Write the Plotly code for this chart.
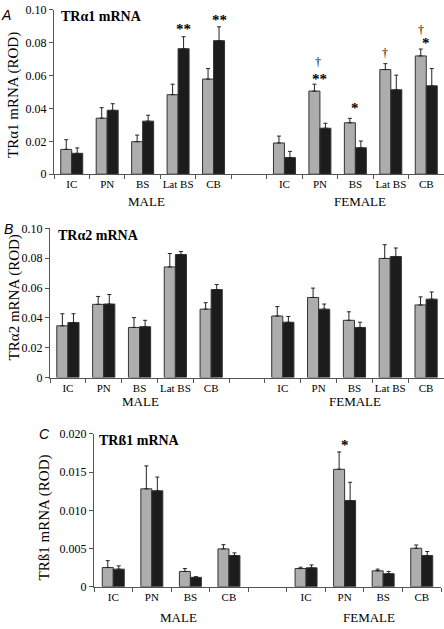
import plotly.graph_objects as go

# ---------------- data ----------------
cats_A = ["IC", "PN", "BS", "Lat BS", "CB"]
A_male_gray = [0.0151, 0.0341, 0.0198, 0.0484, 0.0579]
A_male_gray_sem = [0.0059, 0.0064, 0.0040, 0.0064, 0.0064]
A_male_black = [0.0127, 0.0389, 0.0323, 0.0764, 0.0813]
A_male_black_sem = [0.0033, 0.0040, 0.0036, 0.0073, 0.0084]
A_female_gray = [0.0190, 0.0506, 0.0313, 0.0637, 0.0720]
A_female_gray_sem = [0.0042, 0.0042, 0.0027, 0.0036, 0.0042]
A_female_black = [0.0101, 0.0280, 0.0161, 0.0514, 0.0538]
A_female_black_sem = [0.0038, 0.0030, 0.0041, 0.0089, 0.0105]

cats_B = ["IC", "PN", "BS", "Lat BS", "CB"]
B_male_gray = [0.0347, 0.0491, 0.0336, 0.0742, 0.0459]
B_male_gray_sem = [0.0081, 0.0053, 0.0066, 0.0090, 0.0043]
B_male_black = [0.0369, 0.0493, 0.0341, 0.0825, 0.0590]
B_male_black_sem = [0.0059, 0.0064, 0.0043, 0.0020, 0.0034]
B_female_gray = [0.0413, 0.0537, 0.0384, 0.0799, 0.0487]
B_female_gray_sem = [0.0063, 0.0063, 0.0057, 0.0092, 0.0054]
B_female_black = [0.0371, 0.0459, 0.0336, 0.0812, 0.0526]
B_female_black_sem = [0.0039, 0.0034, 0.0035, 0.0057, 0.0048]

cats_C = ["IC", "PN", "BS", "CB"]
C_male_gray = [0.00252, 0.01282, 0.00201, 0.00496]
C_male_gray_sem = [0.00090, 0.00300, 0.00038, 0.00055]
C_male_black = [0.00231, 0.01256, 0.00124, 0.00410]
C_male_black_sem = [0.00043, 0.00180, 0.00008, 0.00034]
C_female_gray = [0.00239, 0.01538, 0.00209, 0.00504]
C_female_gray_sem = [0.00017, 0.00227, 0.00022, 0.00043]
C_female_black = [0.00248, 0.01128, 0.00171, 0.00410]
C_female_black_sem = [0.00038, 0.00240, 0.00030, 0.00052]

ytick_vals_AB = [0, 0.02, 0.04, 0.06, 0.08, 0.10]
ytick_text_AB = ["0", "0.02", "0.04", "0.06", "0.08", "0.10"]
ytick_vals_C = [0, 0.005, 0.010, 0.015, 0.020]
ytick_text_C = ["0", "0.005", "0.010", "0.015", "0.020"]

# ---------------- style ----------------
GRAY = "#adadad"
BLACK = "#1c1c1c"
AXC = "#555555"
SERIF = "Liberation Serif, Times New Roman, serif"
SANS = "Liberation Sans, Arial, sans-serif"
W, H = 444, 629

fig = go.Figure()


def add_panel(n, cats, mg, mgs, mb, mbs, fg, fgs, fb, fbs, width):
    k = len(cats)
    xm = list(range(k))
    xf = [k + 1 + i for i in range(k)]
    xa = "x" if n == 1 else f"x{n}"
    ya = "y" if n == 1 else f"y{n}"
    for xs, vals, sems, col, off in [
        (xm, mg, mgs, GRAY, -width), (xm, mb, mbs, BLACK, 0.0),
        (xf, fg, fgs, GRAY, -width), (xf, fb, fbs, BLACK, 0.0)]:
        fig.add_trace(go.Bar(
            x=xs, y=vals, width=width, offset=off, xaxis=xa, yaxis=ya,
            marker=dict(color=col, line=dict(color="#333333", width=1)),
            error_y=dict(type="data", array=sems, arrayminus=[0] * len(sems),
                         symmetric=False, color="#222222", thickness=1, width=2),
            showlegend=False, hoverinfo="skip"))
    return xm + xf, cats + cats, k


def xaxis_cfg(domain, tv, tt, k):
    return dict(domain=domain, range=[-0.5, 2 * k + 0.5], tickvals=tv, ticktext=tt,
                showline=True, linecolor=AXC, linewidth=1, ticks="",
                minor=dict(ticks="outside", ticklen=4, tick0=0.5, dtick=1, tickcolor=AXC),
                showgrid=False, zeroline=False,
                tickfont=dict(family=SERIF, size=11, color="black"), fixedrange=True)


def yaxis_cfg(domain, anchor, rng, tv, tt):
    return dict(domain=domain, anchor=anchor, range=rng, tickvals=tv, ticktext=tt,
                showline=True, linecolor=AXC, linewidth=1, ticks="outside", ticklen=4,
                tickcolor=AXC, showgrid=False, zeroline=False,
                tickfont=dict(family=SERIF, size=12, color="black"), fixedrange=True)


tvA, ttA, kA = add_panel(1, cats_A, A_male_gray, A_male_gray_sem, A_male_black, A_male_black_sem,
                         A_female_gray, A_female_gray_sem, A_female_black, A_female_black_sem, 0.31)
tvB, ttB, kB = add_panel(2, cats_B, B_male_gray, B_male_gray_sem, B_male_black, B_male_black_sem,
                         B_female_gray, B_female_gray_sem, B_female_black, B_female_black_sem, 0.31)
tvC, ttC, kC = add_panel(3, cats_C, C_male_gray, C_male_gray_sem, C_male_black, C_male_black_sem,
                         C_female_gray, C_female_gray_sem, C_female_black, C_female_black_sem, 0.285)


def py(px):
    return (H - px) / H


def pxx(px):
    return px / W


dA = [py(171), py(3)]
dB = [py(379), py(226.5)]
dC = [py(593), py(436.7)]

fig.update_layout(
    width=W, height=H, margin=dict(l=0, r=0, t=0, b=0),
    paper_bgcolor="white", plot_bgcolor="white", barmode="overlay",
    xaxis=dict(anchor="y", **xaxis_cfg([pxx(54), 1], tvA, ttA, kA)),
    yaxis=yaxis_cfg(dA, "x", [0, 0.10], ytick_vals_AB, ytick_text_AB),
    xaxis2=dict(anchor="y2", **xaxis_cfg([pxx(50), 1], tvB, ttB, kB)),
    yaxis2=yaxis_cfg(dB, "x2", [0, 0.10], ytick_vals_AB, ytick_text_AB),
    xaxis3=dict(anchor="y3", **xaxis_cfg([pxx(94), pxx(441)], tvC, ttC, kC)),
    yaxis3=yaxis_cfg(dC, "x3", [0, 0.020], ytick_vals_C, ytick_text_C),
)

ann = []


def paper_text(x, y, text, size, family=SERIF, angle=0, xanchor="center"):
    ann.append(dict(xref="paper", yref="paper", x=pxx(x), y=py(y), text=text,
                    showarrow=False, textangle=angle, xanchor=xanchor, yanchor="middle",
                    font=dict(family=family, size=size, color="black")))


# panel letters
paper_text(6, 8, "<i>A</i>", 14, SANS)
paper_text(8, 227, "<i>B</i>", 14, SANS)
paper_text(44, 437, "<i>C</i>", 14, SANS)
# panel titles
paper_text(59, 10, "<b>TRα1 mRNA</b>", 14, xanchor="left")
paper_text(56, 234, "<b>TRα2 mRNA</b>", 14, xanchor="left")
paper_text(97, 443, "<b>TRß1 mRNA</b>", 14, xanchor="left")
# y axis titles
paper_text(14, 90, "TRα1 mRNA (ROD)", 15, angle=-90)
paper_text(14, 297, "TRα2 mRNA (ROD)", 15, angle=-90)
paper_text(44, 522, "TRß1 mRNA (ROD)", 15, angle=-90)
# sex group labels
paper_text(146, 199, "MALE", 13)
paper_text(360, 199, "FEMALE", 13)
paper_text(140, 403, "MALE", 13)
paper_text(355, 403, "FEMALE", 13)
paper_text(178, 624, "MALE", 13)
paper_text(369, 624, "FEMALE", 13)


def mark(xref, yref, x, y, text, size=15):
    ann.append(dict(xref=xref, yref=yref, x=x, y=y, text=text, showarrow=False,
                    xanchor="center", yanchor="middle",
                    font=dict(family=SERIF, size=size, color="black")))


# significance markers (panel A)
mark("x", "y", 3 + 0.155, 0.0885, "<b>**</b>")
mark("x", "y", 4 + 0.155, 0.0940, "<b>**</b>")
mark("x", "y", 7 - 0.05, 0.0680, "†", 12)
mark("x", "y", 7, 0.0578, "<b>**</b>")
mark("x", "y", 8, 0.0400, "<b>*</b>")
mark("x", "y", 9 - 0.155, 0.0735, "†", 12)
mark("x", "y", 10 - 0.155, 0.0880, "†", 12)
mark("x", "y", 10, 0.0800, "<b>*</b>")
# panel C
mark("x3", "y3", 6, 0.0185, "<b>*</b>")

fig.update_layout(annotations=ann)
fig.write_html("out.html", config={"displayModeBar": False},
               post_script="document.body.style.margin='0';document.body.style.overflow='hidden';")
